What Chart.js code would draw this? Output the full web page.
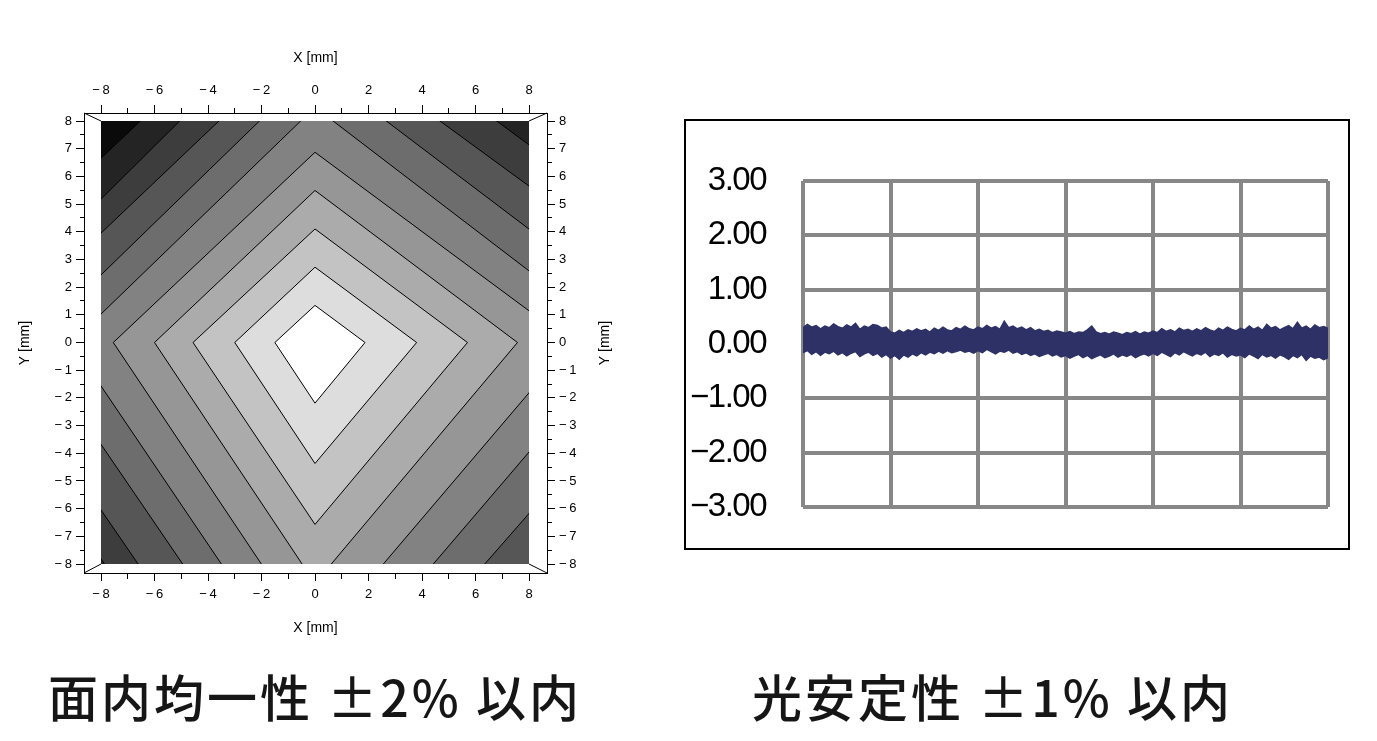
<!DOCTYPE html>
<html>
<head>
<meta charset="utf-8">
<script src="https://cdn.jsdelivr.net/npm/chart.js@4.4.1/dist/chart.umd.min.js"></script>
<style>
  html, body { margin: 0; padding: 0; background: #fff; width: 1377px; height: 741px; overflow: hidden; }
  #mapBox { position: absolute; left: 0; top: 0; width: 640px; height: 650px; }
  #stabFrame { position: absolute; left: 684px; top: 119px; width: 666px; height: 431px;
               border: 2px solid #000; box-sizing: border-box; }
  #stabBox { position: absolute; left: 686px; top: 101px; width: 662px; height: 467px; }
  .caption { position: absolute; top: 670px; font: 500 50px 'Noto Sans CJK JP', sans-serif;
             line-height: 50px; white-space: nowrap; color: #161616; letter-spacing: 3px; }
</style>
</head>
<body>
<div id="mapBox"><canvas id="mapChart"></canvas></div>
<div id="stabFrame"></div>
<div id="stabBox"><canvas id="stabChart"></canvas></div>
<div class="caption" style="left:48px">面内均一性 ±2% 以内</div>
<div class="caption" style="left:752px">光安定性 ±1% 以内</div>
<script>
// ---- uniformity map: contour levels 1..10, diamond vertices (mm)
const levelTop    = [1.34, 2.72, 4.10, 5.49, 6.87, 8.50, 9.95, 11.30, 12.85, 13.95];
const levelRight  = [1.87, 3.80, 5.70, 7.57, 9.60, 11.50, 13.60, 16.00, 18.00, 20.00];
const levelBottom = [-2.19, -4.37, -6.57, -8.70, -10.90, -13.00, -15.00, -17.30, -19.40, -21.50];
const levelLeft   = [-1.50, -3.00, -4.56, -6.00, -7.54, -9.10, -10.60, -12.30, -13.40, -15.30];
// grey of each band, from inside level 1 out to beyond level 10
const bandGrays = ['#ffffff', '#dddddd', '#c3c3c3', '#ababab', '#969696', '#828282',
                   '#6d6d6d', '#565656', '#3d3d3d', '#242424', '#0a0a0a'];
const mapExtent = [-8, 8];
const xTickValues = [-8, -7, -6, -5, -4, -3, -2, -1, 0, 1, 2, 3, 4, 5, 6, 7, 8];
const yTickValues = [-8, -7.5, -7, -6.5, -6, -5.5, -5, -4.5, -4, -3.5, -3, -2.5, -2, -1.5, -1, -0.5,
                     0, 0.5, 1, 1.5, 2, 2.5, 3, 3.5, 4, 4.5, 5, 5.5, 6, 6.5, 7, 7.5, 8];

// ---- light stability trace: upper / lower edge of the noisy band (%)
const stabUpper = [
  0.30, 0.36, 0.31, 0.34, 0.28, 0.33, 0.30, 0.37, 0.32, 0.29,
  0.35, 0.31, 0.38, 0.27, 0.33, 0.30, 0.36, 0.34, 0.29, 0.31,
  0.22, 0.20, 0.25, 0.21, 0.26, 0.23, 0.28, 0.24, 0.27, 0.22,
  0.29, 0.25, 0.31, 0.26, 0.24, 0.30, 0.27, 0.33, 0.28, 0.26,
  0.31, 0.28, 0.34, 0.29, 0.32, 0.27, 0.42, 0.30, 0.33, 0.28,
  0.31, 0.26, 0.30, 0.24, 0.27, 0.23, 0.25, 0.21, 0.24, 0.22,
  0.20, 0.23, 0.19, 0.22, 0.21, 0.26, 0.33, 0.22, 0.19, 0.21,
  0.18, 0.22, 0.20, 0.17, 0.21, 0.19, 0.23, 0.18, 0.22, 0.20,
  0.24, 0.21, 0.28, 0.23, 0.26, 0.22, 0.29, 0.25, 0.27, 0.23,
  0.28, 0.24, 0.30, 0.26, 0.23, 0.29, 0.25, 0.31, 0.27, 0.24,
  0.29, 0.26, 0.33, 0.27, 0.31, 0.25, 0.36, 0.29, 0.32, 0.26,
  0.30, 0.34, 0.28, 0.40, 0.29, 0.33, 0.27, 0.35, 0.30, 0.32,
  0.29
];
const stabLower = [
  -0.16, -0.12, -0.19, -0.14, -0.21, -0.15, -0.18, -0.13, -0.20, -0.16,
  -0.22, -0.17, -0.14, -0.23, -0.18, -0.15, -0.21, -0.17, -0.24, -0.19,
  -0.26, -0.21, -0.28, -0.20, -0.24, -0.18, -0.22, -0.16, -0.20, -0.15,
  -0.18, -0.13, -0.17, -0.12, -0.16, -0.14, -0.11, -0.15, -0.13, -0.17,
  -0.12, -0.16, -0.10, -0.14, -0.18, -0.13, -0.15, -0.11, -0.17, -0.14,
  -0.19, -0.16, -0.21, -0.18, -0.23, -0.20, -0.17, -0.22, -0.19, -0.24,
  -0.21, -0.26, -0.22, -0.19, -0.25, -0.21, -0.27, -0.23, -0.20, -0.25,
  -0.22, -0.18, -0.24, -0.20, -0.23, -0.19, -0.25, -0.21, -0.18, -0.22,
  -0.17, -0.21, -0.15, -0.19, -0.23, -0.16, -0.20, -0.14, -0.18, -0.22,
  -0.17, -0.20, -0.15, -0.23, -0.18, -0.21, -0.16, -0.24, -0.19, -0.22,
  -0.20, -0.25, -0.18, -0.22, -0.27, -0.19, -0.24, -0.21, -0.26, -0.20,
  -0.23, -0.28, -0.21, -0.25, -0.19, -0.30, -0.22, -0.26, -0.24, -0.29,
  -0.25
];
const stabGridX = [0, 20, 40, 60, 80, 100, 120];
const stabTickValues = [-3, -2, -1, 0, 1, 2, 3];
const stabTickLabels = ['\u22123.00', '\u22122.00', '\u22121.00', '0.00', '1.00', '2.00', '3.00'];

// ---- layout (pixels)
const mapSize = { w: 640, h: 650 };
const mapFrame = { left: 84, top: 113, right: 547, bottom: 573 };
const xPad = [17, 18];   // frame to data edge, left / right
const yPad = [9, 8];     // bottom / top
const sansFont = "'Liberation Sans', Arial, sans-serif";

Chart.defaults.animation = false;

function signed(v) {
  return v < 0 ? '\u2212\u2009' + Math.abs(v) : String(v);
}

const xUnit = (mapFrame.right - mapFrame.left - xPad[0] - xPad[1]) / (mapExtent[1] - mapExtent[0]);
const yUnit = (mapFrame.bottom - mapFrame.top - yPad[0] - yPad[1]) / (mapExtent[1] - mapExtent[0]);
const xRange = [mapExtent[0] - xPad[0] / xUnit, mapExtent[1] + xPad[1] / xUnit];
const yRange = [mapExtent[0] - yPad[0] / yUnit, mapExtent[1] + yPad[1] / yUnit];

function mapAxis(position, size, title) {
  const horizontal = position === 'top' || position === 'bottom';
  const outerFirst = position === 'top' || position === 'left';
  const values = horizontal ? xTickValues : yTickValues;
  const range = horizontal ? xRange : yRange;
  const minorLen = horizontal ? 5 : 4;
  const isMajor = v => horizontal ? v % 2 === 0 : Number.isInteger(v);
  return {
    type: 'linear',
    position: position,
    min: range[0],
    max: range[1],
    afterBuildTicks: s => { s.ticks = values.map(v => ({ value: v })); },
    afterFit: s => { if (horizontal) s.height = size; else s.width = size; },
    border: { display: true, color: '#000', width: 1 },
    grid: {
      drawOnChartArea: false,
      drawTicks: true,
      tickLength: 8,
      tickColor: '#000',
      tickWidth: 1,
      tickBorderDash: c => isMajor(c.tick.value) ? [] :
        (outerFirst ? [0, 8 - minorLen, minorLen, 30] : [minorLen, 30])
    },
    ticks: {
      autoSkip: false,
      maxRotation: 0,
      color: '#000',
      font: { family: sansFont, size: 13 },
      padding: horizontal ? (position === 'top' ? 7 : 6) : 4,
      callback: v => isMajor(v) ? signed(v) : ''
    },
    title: title || { display: false }
  };
}

const contourSets = levelTop.map((t, i) => ({
  label: 'level ' + (i + 1),
  data: [
    { x: 0, y: t },
    { x: levelRight[i], y: 0 },
    { x: 0, y: levelBottom[i] },
    { x: levelLeft[i], y: 0 },
    { x: 0, y: t }
  ],
  xAxisID: 'x',
  yAxisID: 'y',
  borderColor: '#000',
  borderWidth: 1,
  backgroundColor: bandGrays[i],
  fill: 'shape',
  pointRadius: 0,
  tension: 0
}));

const mapDecor = {
  id: 'mapDecor',
  beforeDatasetsDraw(chart) {
    const { ctx, scales: { x, y } } = chart;
    const l = x.getPixelForValue(mapExtent[0]), r = x.getPixelForValue(mapExtent[1]);
    const t = y.getPixelForValue(mapExtent[1]), b = y.getPixelForValue(mapExtent[0]);
    ctx.save();
    ctx.beginPath();
    ctx.rect(l, t, r - l, b - t);
    ctx.clip();
    ctx.fillStyle = bandGrays[bandGrays.length - 1];
    ctx.fillRect(l, t, r - l, b - t);
  },
  afterDatasetsDraw(chart) {
    chart.ctx.restore();
  },
  afterDraw(chart) {
    const { ctx, chartArea: a, scales: { x, y } } = chart;
    const l = x.getPixelForValue(mapExtent[0]), r = x.getPixelForValue(mapExtent[1]);
    const t = y.getPixelForValue(mapExtent[1]), b = y.getPixelForValue(mapExtent[0]);
    ctx.save();
    ctx.strokeStyle = '#000';
    ctx.lineWidth = 1;
    ctx.beginPath();
    ctx.moveTo(a.left, a.top); ctx.lineTo(l, t);
    ctx.moveTo(a.right, a.top); ctx.lineTo(r, t);
    ctx.moveTo(a.left, a.bottom); ctx.lineTo(l, b);
    ctx.moveTo(a.right, a.bottom); ctx.lineTo(r, b);
    ctx.stroke();
    // right-hand axis title reads bottom to top, like the left one
    ctx.translate(a.right + 58, (a.top + a.bottom) / 2);
    ctx.rotate(-Math.PI / 2);
    ctx.fillStyle = '#000';
    ctx.font = '14px ' + sansFont;
    ctx.textAlign = 'center';
    ctx.textBaseline = 'middle';
    ctx.fillText('Y [mm]', 0, 0);
    ctx.restore();
  }
};

const axisTitle = (pad) => ({
  display: true, text: 'X [mm]', color: '#000',
  font: { family: sansFont, size: 14 }, padding: pad
});

new Chart(document.getElementById('mapChart'), {
  type: 'line',
  data: { datasets: contourSets },
  options: {
    responsive: true,
    maintainAspectRatio: false,
    layout: { padding: 0 },
    plugins: { legend: { display: false }, tooltip: { enabled: false } },
    scales: {
      x: mapAxis('bottom', mapSize.h - mapFrame.bottom, axisTitle({ top: 0, bottom: 13.6 })),
      xTop: mapAxis('top', mapFrame.top, axisTitle({ top: 49.6, bottom: 0 })),
      y: mapAxis('left', mapFrame.left, Object.assign(axisTitle({ top: 16.6, bottom: 0 }), { text: 'Y [mm]' })),
      yRight: mapAxis('right', mapSize.w - mapFrame.right)
    }
  },
  plugins: [mapDecor]
});

// ---- stability chart
const gridGray = '#878787';
const navy = '#2e3166';

// squeeze the tick digits a little, like the narrow face of the original
const narrowText = {
  id: 'narrowText',
  beforeDraw(chart) { chart.ctx.letterSpacing = '-1.5px'; },
  afterDraw(chart) { chart.ctx.letterSpacing = '0px'; }
};

new Chart(document.getElementById('stabChart'), {
  type: 'line',
  data: {
    datasets: [
      {
        label: 'upper',
        data: stabUpper.map((v, i) => ({ x: i, y: v })),
        borderColor: navy, borderWidth: 1.5, backgroundColor: navy,
        fill: '+1', pointRadius: 0, tension: 0
      },
      {
        label: 'lower',
        data: stabLower.map((v, i) => ({ x: i, y: v })),
        borderColor: navy, borderWidth: 1.5, backgroundColor: navy,
        fill: false, pointRadius: 0, tension: 0
      }
    ]
  },
  options: {
    responsive: true,
    maintainAspectRatio: false,
    layout: { padding: { top: 80, right: 20, bottom: 61, left: 0 } },
    plugins: { legend: { display: false }, tooltip: { enabled: false } },
    scales: {
      x: {
        type: 'linear',
        min: stabGridX[0],
        max: stabGridX[stabGridX.length - 1],
        afterBuildTicks: s => { s.ticks = stabGridX.map(v => ({ value: v })); },
        afterFit: s => { s.height = 0; },
        border: { display: false },
        grid: { color: gridGray, lineWidth: 4, drawTicks: false },
        ticks: { display: false }
      },
      y: {
        type: 'linear',
        min: stabTickValues[0],
        max: stabTickValues[stabTickValues.length - 1],
        afterBuildTicks: s => { s.ticks = stabTickValues.map(v => ({ value: v })); },
        afterFit: s => { s.width = 117; },
        border: { display: false },
        grid: { color: gridGray, lineWidth: 4, drawTicks: false },
        ticks: {
          padding: 37,
          color: '#000',
          font: { family: sansFont, size: 33 },
          callback: v => stabTickLabels[stabTickValues.indexOf(v)]
        }
      }
    }
  },
  plugins: [narrowText]
});
</script>
</body>
</html>
